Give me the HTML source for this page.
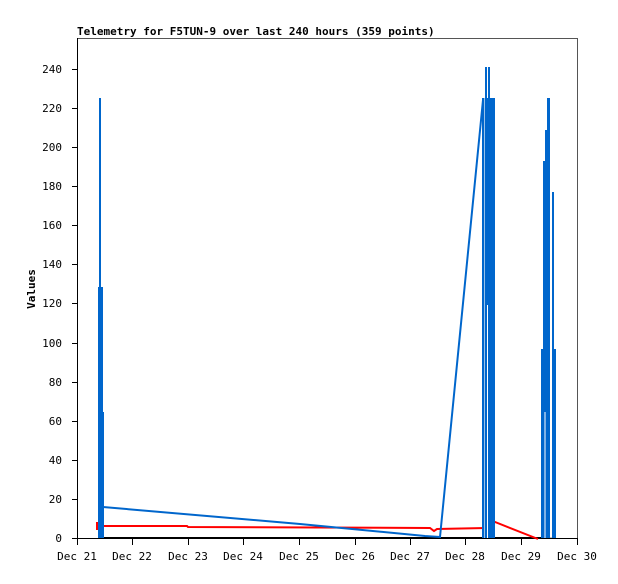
<!DOCTYPE html>
<html><head><style>
body{margin:0;background:#fff}
text{font-family:"DejaVu Sans Mono","Liberation Mono",monospace;font-size:11px;fill:#000}
</style></head><body>
<svg width="618" height="579" xmlns="http://www.w3.org/2000/svg">
<rect width="618" height="579" fill="#fff"/>
<text x="77" y="35" font-weight="bold">Telemetry for F5TUN-9 over last 240 hours (359 points)</text>
<rect x="77.5" y="38.5" width="500" height="500" fill="none" stroke="#555" stroke-width="1"/>
<line x1="77.5" y1="38" x2="77.5" y2="539" stroke="#000"/>
<line x1="77" y1="538.5" x2="578" y2="538.5" stroke="#000"/>
<g stroke="#000" stroke-width="1">
<line x1="72" y1="538.5" x2="77" y2="538.5"/><line x1="72" y1="499.5" x2="77" y2="499.5"/>
<line x1="72" y1="460.5" x2="77" y2="460.5"/><line x1="72" y1="421.5" x2="77" y2="421.5"/>
<line x1="72" y1="382.5" x2="77" y2="382.5"/><line x1="72" y1="343.5" x2="77" y2="343.5"/>
<line x1="72" y1="303.5" x2="77" y2="303.5"/><line x1="72" y1="264.5" x2="77" y2="264.5"/>
<line x1="72" y1="225.5" x2="77" y2="225.5"/><line x1="72" y1="186.5" x2="77" y2="186.5"/>
<line x1="72" y1="147.5" x2="77" y2="147.5"/><line x1="72" y1="108.5" x2="77" y2="108.5"/>
<line x1="72" y1="69.5" x2="77" y2="69.5"/>
<line x1="77.5" y1="539" x2="77.5" y2="545"/><line x1="132.5" y1="539" x2="132.5" y2="545"/>
<line x1="188.5" y1="539" x2="188.5" y2="545"/><line x1="243.5" y1="539" x2="243.5" y2="545"/>
<line x1="299.5" y1="539" x2="299.5" y2="545"/><line x1="355.5" y1="539" x2="355.5" y2="545"/>
<line x1="410.5" y1="539" x2="410.5" y2="545"/><line x1="465.5" y1="539" x2="465.5" y2="545"/>
<line x1="521.5" y1="539" x2="521.5" y2="545"/><line x1="577.5" y1="539" x2="577.5" y2="545"/>
</g>
<g text-anchor="end">
<text x="62" y="542">0</text><text x="62" y="503">20</text><text x="62" y="464">40</text>
<text x="62" y="425">60</text><text x="62" y="386">80</text><text x="62" y="347">100</text>
<text x="62" y="307">120</text><text x="62" y="268">140</text><text x="62" y="229">160</text>
<text x="62" y="190">180</text><text x="62" y="151">200</text><text x="62" y="112">220</text>
<text x="62" y="73">240</text>
</g>
<g text-anchor="middle">
<text x="77" y="560">Dec 21</text><text x="132" y="560">Dec 22</text><text x="188" y="560">Dec 23</text>
<text x="243" y="560">Dec 24</text><text x="299" y="560">Dec 25</text><text x="355" y="560">Dec 26</text>
<text x="410" y="560">Dec 27</text><text x="465" y="560">Dec 28</text><text x="521" y="560">Dec 29</text>
<text x="577" y="560">Dec 30</text>
</g>
<text transform="translate(35,289) rotate(-90)" text-anchor="middle" font-weight="bold">Values</text>
<line x1="98" y1="538" x2="556" y2="538" stroke="#000" stroke-width="2"/>
<polyline fill="none" stroke="#f00" stroke-width="2" points="97,526 187,526 188,527 430,528 434,531 437,529 486,528 495,522 538,539"/>
<line x1="97" y1="522" x2="97" y2="530" stroke="#f00" stroke-width="2"/>
<line x1="554" y1="530" x2="554" y2="536" stroke="#f00" stroke-width="2"/>
<g fill="#0066cc">
<rect x="98" y="287" width="5" height="251"/>
<rect x="99" y="98" width="2" height="440"/>
<rect x="101" y="365" width="2" height="173"/>
<rect x="102" y="412" width="2" height="126"/>
<rect x="482" y="98" width="13" height="440"/>
<rect x="485" y="67" width="2" height="471"/>
<rect x="488" y="67" width="2" height="471"/>
<rect x="492" y="161" width="1" height="377"/>
<rect x="493" y="130" width="2" height="408"/>
<rect x="541" y="349" width="9" height="189"/>
<rect x="543" y="161" width="2" height="377"/>
<rect x="545" y="130" width="2" height="408"/>
<rect x="547" y="98" width="3" height="440"/>
<rect x="552" y="192" width="2" height="346"/>
<rect x="554" y="349" width="2" height="189"/>
</g>
<polyline fill="none" stroke="#0066cc" stroke-width="2" points="103,507 300,524 425,536 440,537 483,100"/>
<line x1="484.5" y1="538" x2="484.5" y2="98" stroke="#fff" stroke-width="0.6"/>
<line x1="487.5" y1="538" x2="487.5" y2="305" stroke="#fff" stroke-width="1"/>
<line x1="545" y1="538" x2="545" y2="412" stroke="#fff" stroke-width="1"/>
<line x1="551" y1="538" x2="551" y2="150" stroke="#fff" stroke-width="1.5"/>
</svg>
</body></html>
